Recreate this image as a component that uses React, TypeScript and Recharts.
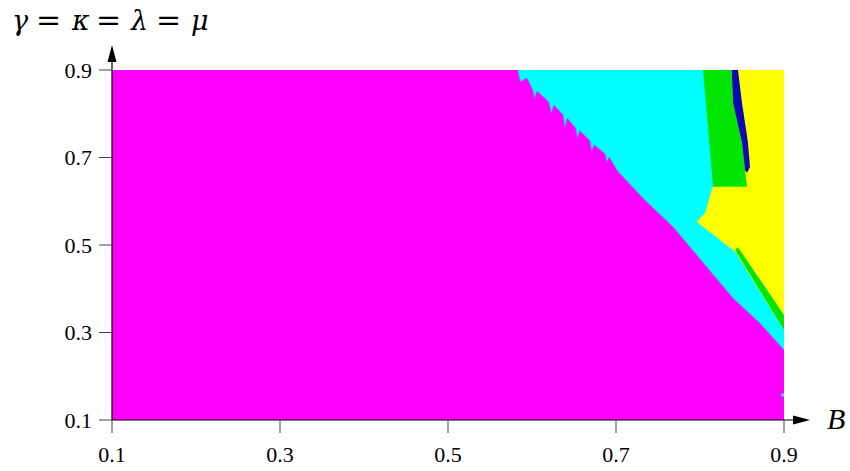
import React from "react";
import {
  Area,
  ComposedChart,
  Line,
  ReferenceLine,
  XAxis,
  YAxis,
} from "recharts";

// axis ticks
const xTicks = [0.1, 0.3, 0.5, 0.7, 0.9];
const yTicks = [0.1, 0.3, 0.5, 0.7, 0.9];

// whole parameter window, [B, low, high]
const fullWindow: [number, number, number][] = [
  [0.1, 0.1, 0.9],
  [0.9, 0.1, 0.9],
];

// lower edge of the cyan phase (jagged near the top), [B, edge]
const cyanEdge: [number, number][] = [
  [0.583, 0.9],
  [0.586, 0.873],
  [0.594, 0.882],
  [0.601, 0.854],
  [0.603, 0.836],
  [0.606, 0.852],
  [0.62, 0.827],
  [0.623, 0.801],
  [0.626, 0.82],
  [0.637, 0.797],
  [0.639, 0.769],
  [0.642, 0.79],
  [0.652, 0.767],
  [0.654, 0.744],
  [0.657, 0.761],
  [0.669, 0.738],
  [0.671, 0.715],
  [0.674, 0.729],
  [0.687, 0.708],
  [0.689, 0.689],
  [0.692, 0.701],
  [0.701, 0.671],
  [0.732, 0.607],
  [0.768, 0.541],
  [0.8, 0.468],
  [0.839, 0.379],
  [0.871, 0.322],
  [0.9, 0.26],
];

// [B, low, high]
const yellowBand: [number, number, number][] = [
  [0.796, 0.553, 0.553],
  [0.806, 0.538, 0.573],
  [0.812, 0.529, 0.614],
  [0.8155, 0.524, 0.635],
  [0.8155, 0.524, 0.9],
  [0.842, 0.484, 0.9],
  [0.9, 0.306, 0.9],
];

const greenUpper: [number, number, number][] = [
  [0.8036, 0.9, 0.9],
  [0.8155, 0.633, 0.9],
  [0.8377, 0.633, 0.9],
  [0.8393, 0.633, 0.825],
  [0.85, 0.633, 0.733],
  [0.8536, 0.633, 0.671],
  [0.856, 0.633, 0.633],
];

const blueBand: [number, number, number][] = [
  [0.8377, 0.9, 0.9],
  [0.8393, 0.825, 0.9],
  [0.8452, 0.774, 0.9],
  [0.85, 0.733, 0.825],
  [0.8536, 0.671, 0.779],
  [0.856, 0.665, 0.749],
  [0.8571, 0.669, 0.733],
  [0.8595, 0.678, 0.678],
];

const greenLower: [number, number, number][] = [
  [0.8417, 0.489, 0.489],
  [0.8452, 0.478, 0.495],
  [0.9, 0.306, 0.34],
];

// isolated cyan speck at the right edge
const cyanSpeck: [number, number, number][] = [
  [0.896, 0.157, 0.157],
  [0.898, 0.153, 0.162],
  [0.9, 0.154, 0.16],
];

const toRows = (band: [number, number, number][]) =>
  band.map(([x, lo, hi]) => ({ x, r: [lo, hi] }));

const regions = [
  { key: "magenta", color: "#ff00ff", rows: toRows(fullWindow) },
  {
    key: "cyan",
    color: "#00ffff",
    rows: cyanEdge.map(([x, lo]) => ({ x, r: [lo, 0.9] })),
  },
  { key: "speck", color: "#40d8ff", rows: toRows(cyanSpeck) },
  { key: "yellow", color: "#ffff00", rows: toRows(yellowBand) },
  { key: "green1", color: "#00e600", rows: toRows(greenUpper) },
  { key: "blue", color: "#0a0ab4", rows: toRows(blueBand) },
  { key: "green2", color: "#00e600", rows: toRows(greenLower) },
];

const edgeRows = cyanEdge.map(([x, lo]) => ({ x, lo }));

const serif = "'Liberation Serif', 'Times New Roman', serif";

// axis line ending in a filled arrowhead
const ArrowLine = (props: any) => {
  const { x1, y1, x2, y2 } = props;
  const dx = x2 - x1;
  const dy = y2 - y1;
  const len = Math.hypot(dx, dy) || 1;
  const ux = dx / len;
  const uy = dy / len;
  const head = 17;
  const half = 4.5;
  const bx = x2 - ux * head;
  const by = y2 - uy * head;
  const nx = -uy;
  const ny = ux;
  return (
    <g>
      <line x1={x1} y1={y1} x2={bx} y2={by} stroke="#000" strokeWidth={1.2} />
      <polygon
        points={`${x2},${y2} ${bx + nx * half},${by + ny * half} ${bx - nx * half},${by - ny * half}`}
        fill="#000"
      />
    </g>
  );
};

// glyph offsets of the y-axis title, evenly spaced
const titleParts: [string, number, boolean][] = [
  ["γ", 0, true],
  ["=", 24, false],
  ["κ", 60, true],
  ["=", 84, false],
  ["λ", 119, true],
  ["=", 144, false],
  ["μ", 179, true],
];

const YTitle = (props: any) => {
  const { viewBox } = props;
  if (!viewBox) return null;
  const left = viewBox.x - 40;
  const base = viewBox.y - 40;
  return (
    <text
      y={base}
      fontFamily="'DejaVu Serif', serif"
      fontSize={27}
      fontStyle="italic"
      fill="#000"
    >
      {titleParts.map(([ch, dx, italic], i) => (
        <tspan
          key={i}
          x={left + dx}
          fontStyle={italic ? "italic" : "normal"}
          fontSize={italic ? 27 : 30}
        >
          {ch}
        </tspan>
      ))}
    </text>
  );
};

const XTitle = (props: any) => {
  const { viewBox } = props;
  if (!viewBox) return null;
  return (
    <text
      x={viewBox.x + viewBox.width + 43}
      y={viewBox.y + 9}
      fontFamily={serif}
      fontSize={30}
      fontStyle="italic"
      fill="#000"
    >
      B
    </text>
  );
};

export default function App() {
  const tickStyle = { fill: "#000", fontSize: 22, fontFamily: serif };
  return (
    <div style={{ position: "absolute", left: 0, top: 0, width: 850, height: 471 }}>
      <ComposedChart
        width={850}
        height={471}
        margin={{ top: 70, right: 66, bottom: 11, left: 52 }}
      >
        <XAxis
          type="number"
          dataKey="x"
          domain={[0.1, 0.9]}
          ticks={xTicks}
          allowDataOverflow
          height={40}
          tickSize={13}
          tickMargin={13}
          axisLine={false}
          tickLine={{ stroke: "#444" }}
          tick={tickStyle}
          tickFormatter={(v: number) => v.toFixed(1)}
          label={<XTitle />}
        />
        <YAxis
          type="number"
          domain={[0.1, 0.9]}
          ticks={yTicks}
          allowDataOverflow
          width={60}
          tickSize={13}
          tickMargin={7}
          axisLine={false}
          tickLine={{ stroke: "#444" }}
          tick={tickStyle}
          tickFormatter={(v: number) => v.toFixed(1)}
          label={<YTitle />}
        />
        {regions.map((reg) => (
          <Area
            key={reg.key}
            data={reg.rows}
            dataKey="r"
            type="linear"
            fill={reg.color}
            fillOpacity={1}
            stroke="none"
            dot={false}
            activeDot={false}
            isAnimationActive={false}
          />
        ))}
        {/* soft bluish seam between the magenta and cyan phases */}
        <Line
          data={edgeRows}
          dataKey="lo"
          type="linear"
          stroke="#7a6cff"
          strokeWidth={1}
          strokeOpacity={0.55}
          dot={false}
          activeDot={false}
          isAnimationActive={false}
        />
        <ReferenceLine
          segment={[
            { x: 0.1, y: 0.1 },
            { x: 0.931, y: 0.1 },
          ]}
          ifOverflow="visible"
          shape={ArrowLine}
        />
        <ReferenceLine
          segment={[
            { x: 0.1, y: 0.1 },
            { x: 0.1, y: 0.957 },
          ]}
          ifOverflow="visible"
          shape={ArrowLine}
        />
      </ComposedChart>
    </div>
  );
}
